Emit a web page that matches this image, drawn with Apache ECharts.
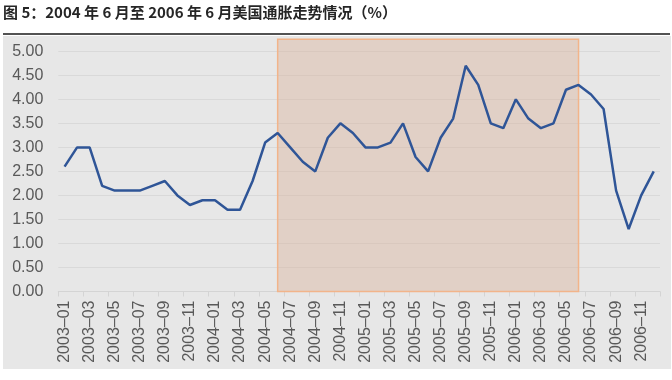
<!DOCTYPE html>
<html>
<head>
<meta charset="utf-8">
<script src="https://cdn.jsdelivr.net/npm/echarts@6/dist/echarts.min.js"></script>
<style>
html,body{margin:0;padding:0;background:#ffffff;}
#chart{width:672px;height:380px;}
</style>
</head>
<body>
<div id="chart"></div>
<script>
const titleText = '图 5：2004 年 6 月至 2006 年 6 月美国通胀走势情况（%）';
const categories = [
  '2003-01','2003-02','2003-03','2003-04','2003-05','2003-06','2003-07','2003-08','2003-09','2003-10','2003-11','2003-12',
  '2004-01','2004-02','2004-03','2004-04','2004-05','2004-06','2004-07','2004-08','2004-09','2004-10','2004-11','2004-12',
  '2005-01','2005-02','2005-03','2005-04','2005-05','2005-06','2005-07','2005-08','2005-09','2005-10','2005-11','2005-12',
  '2006-01','2006-02','2006-03','2006-04','2006-05','2006-06','2006-07','2006-08','2006-09','2006-10','2006-11','2006-12'
];
const inflation = [
  2.6, 3.0, 3.0, 2.2, 2.1, 2.1, 2.1, 2.2, 2.3, 2.0, 1.8, 1.9,
  1.9, 1.7, 1.7, 2.3, 3.1, 3.3, 3.0, 2.7, 2.5, 3.2, 3.5, 3.3,
  3.0, 3.0, 3.1, 3.5, 2.8, 2.5, 3.2, 3.6, 4.7, 4.3, 3.5, 3.4,
  4.0, 3.6, 3.4, 3.5, 4.2, 4.3, 4.1, 3.8, 2.1, 1.3, 2.0, 2.5
];
const highlightStart = '2004-06';
const highlightEnd = '2006-06';
const yMin = 0, yMax = 5.25, yStep = 0.5;

const chart = echarts.init(document.getElementById('chart'), null, {renderer: 'canvas'});
const font = '"Liberation Sans", Arial, sans-serif';
chart.setOption({
  animation: false,
  backgroundColor: '#ffffff',
  graphic: [
    {type: 'rect', z: -10, shape: {x: 3, y: 36, width: 668, height: 333}, style: {fill: '#e7e7e7'}},
    {type: 'line', z: 10, shape: {x1: 3, y1: 34, x2: 670, y2: 34}, style: {stroke: '#1a1a1a', lineWidth: 1.5}},
    {type: 'text', z: 10, left: 3, top: 5, style: {text: titleText, fill: '#262626', font: 'bold 15px "Noto Sans CJK SC", sans-serif'}}
  ],
  grid: {left: 58.3, right: 12, top: 39.3, bottom: 88.5, containLabel: false},
  xAxis: {
    type: 'category',
    data: categories,
    boundaryGap: true,
    axisLine: {show: true, lineStyle: {color: '#d4d4d4', width: 1}},
    axisTick: {show: true, interval: 1, length: 5, lineStyle: {color: '#d4d4d4'}},
    axisLabel: {interval: 1, rotate: 90, margin: 9, color: '#595959', fontSize: 16, fontFamily: font,
      formatter: v => v.replace('-', '–')},
    splitLine: {show: false}
  },
  yAxis: {
    type: 'value',
    min: yMin, max: yMax, interval: yStep,
    axisLine: {show: false},
    axisTick: {show: false},
    axisLabel: {color: '#595959', fontSize: 16, fontFamily: font, margin: 15, showMaxLabel: false,
      formatter: v => v.toFixed(2)},
    splitLine: {show: true, showMaxLine: false, lineStyle: {color: '#d9d9d9', width: 1}}
  },
  series: [
    {
      type: 'line', data: [], z: 1, silent: true,
      markArea: {
        silent: true,
        itemStyle: {color: 'rgba(215,168,140,0.36)', borderColor: '#f2b48a', borderWidth: 1.5},
        data: [[{xAxis: highlightStart, yAxis: yMin}, {xAxis: highlightEnd, yAxis: yMax}]]
      }
    },
    {
      type: 'line', data: inflation, z: 3,
      symbol: 'none', smooth: false,
      lineStyle: {color: '#2f5597', width: 2.5}
    }
  ]
});
</script>
</body>
</html>
